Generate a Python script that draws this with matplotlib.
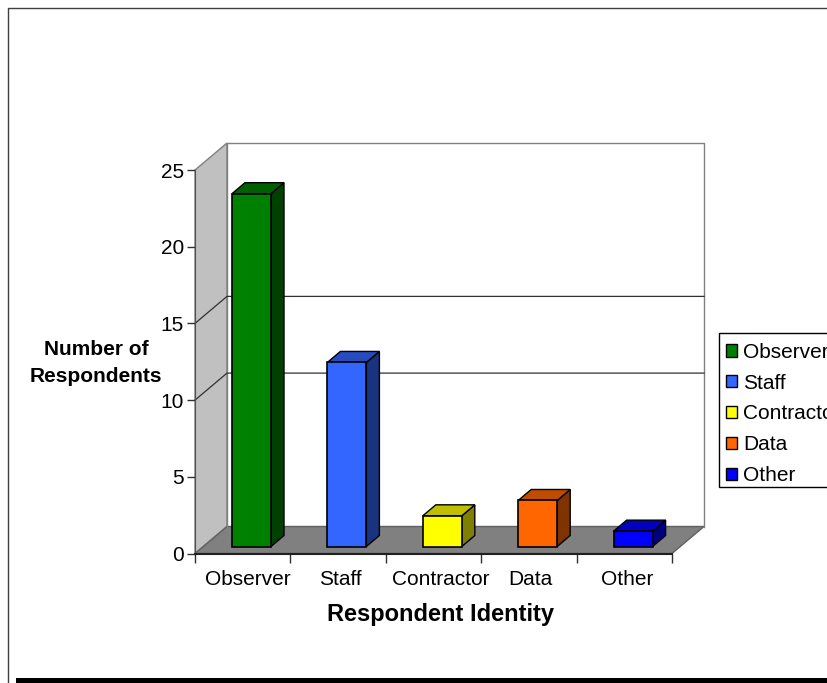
import matplotlib
matplotlib.use("Agg")
import matplotlib.pyplot as plt
from matplotlib.patches import Polygon, Rectangle

plt.rcParams['font.family'] = ['Liberation Sans', 'DejaVu Sans']

# data
categories = ["Observer", "Staff", "Contractor", "Data", "Other"]
values = [23, 12, 2, 3, 1]
front_colors = ["#008000", "#3366FF", "#FFFF00", "#FF6600", "#0000FF"]
top_colors = ["#006000", "#264CBF", "#BFBF00", "#BF4C00", "#0000BF"]
side_colors = ["#004000", "#19337F", "#7F7F00", "#7F3300", "#00007F"]
y_ticks = [0, 5, 10, 15, 20, 25]
grid_values = [10, 15]  # the 5 and 20 lines are not there in the original

W, H = 828, 683
fig = plt.figure(figsize=(W / 100, H / 100), dpi=100)
ax = fig.add_axes([195 / W, (H - 553.5) / H, 477 / W, 383.5 / H])
ax.set_xlim(0, len(categories))
ax.set_ylim(0, 25)
ax.patch.set_visible(False)

# depth of the fake 3d box, in data units
dx = 32 / 95.4
dy = 27 / 15.34
n = len(categories)

# walls and floor
ax.add_patch(Polygon([(0, 0), (0, 25), (dx, 25 + dy), (dx, dy)], closed=True,
                     fc="#C0C0C0", ec="#808080", lw=1, clip_on=False, zorder=1))
ax.add_patch(Polygon([(0, 0), (n, 0), (n + dx, dy), (dx, dy)], closed=True,
                     fc="#808080", ec="#606060", lw=1, clip_on=False, zorder=1))
ax.plot([dx, dx, n + dx, n + dx], [dy, 25 + dy, 25 + dy, dy], color="#808080",
        lw=1, clip_on=False, zorder=1)
for v in grid_values:
    ax.plot([0, dx, n + dx], [v, v + dy, v + dy], color="#303030", lw=0.9,
            clip_on=False, zorder=2)

# bars, each one a front, top and side polygon
bar_x = 37 / 95.4
bar_w = 39 / 95.4
bar_y = 7 / 15.34
bar_dx = 13 / 95.4
bar_dy = 11 / 15.34
for i, v in enumerate(values):
    x0 = i + bar_x
    x1 = x0 + bar_w
    y0 = bar_y
    y1 = y0 + v
    ax.add_patch(Polygon([(x1, y0), (x1 + bar_dx, y0 + bar_dy), (x1 + bar_dx, y1 + bar_dy), (x1, y1)],
                         closed=True, fc=side_colors[i], ec="black", lw=1, clip_on=False, zorder=3))
    ax.add_patch(Polygon([(x0, y1), (x1, y1), (x1 + bar_dx, y1 + bar_dy), (x0 + bar_dx, y1 + bar_dy)],
                         closed=True, fc=top_colors[i], ec="black", lw=1, clip_on=False, zorder=3))
    ax.add_patch(Rectangle((x0, y0), bar_w, v, fc=front_colors[i], ec="black", lw=1.2,
                           clip_on=False, zorder=4))

# axes
for s in ["top", "right"]:
    ax.spines[s].set_visible(False)
ax.spines["left"].set_color("#505050")
ax.spines["bottom"].set_color("#202020")
ax.spines["bottom"].set_linewidth(1.5)
ax.spines["left"].set_zorder(5)
ax.spines["bottom"].set_zorder(5)
ax.set_yticks(y_ticks)
ax.set_xticks(range(n + 1))
ax.set_xticklabels([])
ax.tick_params(axis="y", length=6, width=1, labelsize=15, pad=2, color="#303030")
ax.tick_params(axis="x", length=6.5, width=1, color="#303030")

label_shift = [0.05, 0.02, 0.08, 0.02, 0.035]
for i, c in enumerate(categories):
    ax.text(i + 0.5 + label_shift[i], -1.69, c, ha="center", va="center", fontsize=15)

fig.text(440.5 / W, 1 - 614.7 / H, "Respondent Identity", ha="center", va="center",
         fontsize=17, fontweight="bold")
fig.text(96 / W, 1 - 363 / H, "Number of\nRespondents", ha="center", va="center",
         fontsize=15, fontweight="bold", linespacing=1.53)

# legend box runs off the right edge like in the original
fig.add_artist(Rectangle((719 / W, 1 - 487 / H), 130 / W, 154 / H, fc="white", ec="black", lw=1,
                         transform=fig.transFigure))
handles = [Rectangle((0, 0), 1, 1, fc=c, ec="black", lw=1) for c in front_colors]
leg = fig.legend(handles, categories, loc="upper left", bbox_to_anchor=(726 / W, 1 - 342.7 / H),
                 fontsize=15, frameon=False, handlelength=0.55, handleheight=0.55,
                 handletextpad=0.27, labelspacing=0.57, borderaxespad=0, borderpad=0)

# outer frame and bottom bar of the slide
fig.add_artist(plt.Line2D([8 / W, 8 / W, 1], [0, 1 - 8 / H, 1 - 8 / H], color="#404040", lw=1))
fig.add_artist(Rectangle((16 / W, 0), 1 - 16 / W, 5 / H, fc="black", ec="none",
                         transform=fig.transFigure))

fig.savefig("out.png", dpi=100)
